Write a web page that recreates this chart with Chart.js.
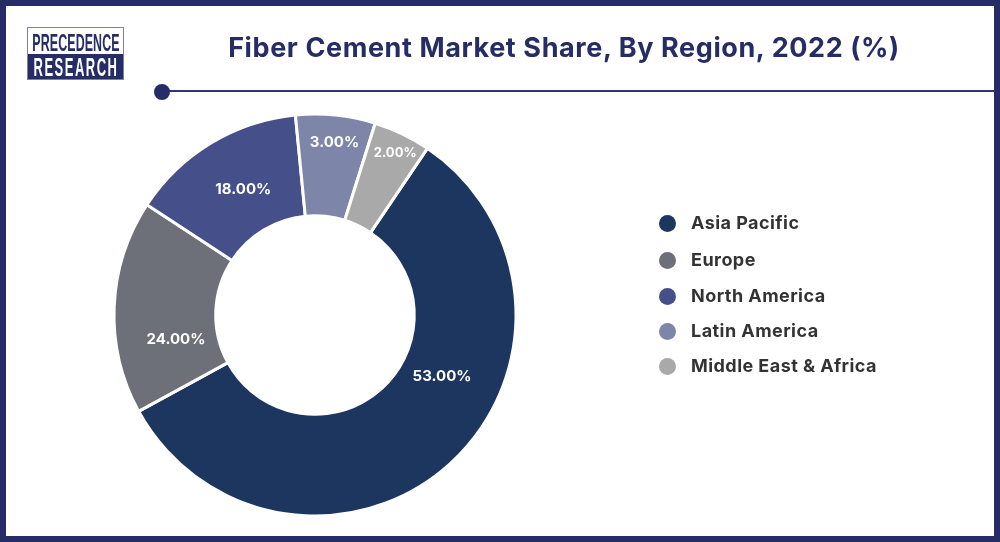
<!DOCTYPE html>
<html>
<head>
<meta charset="utf-8">
<script src="https://cdn.jsdelivr.net/npm/chart.js@4"></script>
<style>
  html, body { margin: 0; padding: 0; background: #fff; }
  body { width: 1000px; height: 542px; overflow: hidden; position: relative; font-family: Inter, sans-serif; }
  #frame { position: absolute; inset: 0; border: 6px solid #252c66; box-sizing: border-box; pointer-events: none; }
  #chart { position: absolute; left: 0; top: 0; }
  #title { position: absolute; left: 164px; width: 800px; top: 30px; text-align: center; font-size: 27px; line-height: 36px; font-weight: 700; color: #252c66; letter-spacing: 0.6px; white-space: nowrap; }
  #rule { position: absolute; left: 161px; right: 5px; top: 90px; height: 2px; background: #2f3672; }
  #dot { position: absolute; left: 154px; top: 84px; width: 16px; height: 16px; border-radius: 50%; background: #252c66; }
  #logo { position: absolute; left: 27px; top: 27px; width: 97px; height: 53px; box-sizing: border-box; border: 1px solid #7d80a0; font-family: "Liberation Sans", sans-serif; font-weight: 700; overflow: hidden; }
  #logo .band { position: absolute; left: 0; right: 0; }
  #logo .band span { position: absolute; left: 50%; white-space: nowrap; }
  #logo .top { top: 0; height: 26px; }
  #logo .top span { top: 2px; font-size: 23px; line-height: 26px; letter-spacing: 0.2px; color: #252c66; transform: translateX(-50%) scaleX(0.54); }
  #logo .bottom { top: 26px; height: 26px; background: #252c66; }
  #logo .bottom span { top: 0; font-size: 26px; line-height: 26px; letter-spacing: 3px; color: #fff; transform: translateX(-50%) scaleX(0.5); }
  .legend-row { position: absolute; left: 659px; height: 20px; white-space: nowrap; }
  .legend-row i { position: absolute; left: 0; top: 1.5px; width: 17px; height: 17px; border-radius: 50%; }
  .legend-row span { position: absolute; left: 32px; top: 0; font-size: 18px; line-height: 20px; font-weight: 700; color: #333; letter-spacing: 0.45px; }
</style>
</head>
<body>
<canvas id="chart" width="1000" height="542"></canvas>
<div id="frame"></div>
<div id="logo"><div class="band top"><span>PRECEDENCE</span></div><div class="band bottom"><span>RESEARCH</span></div></div>
<div id="title"></div>
<div id="rule"></div>
<div id="dot"></div>
<div id="legend"></div>
<script>
const chartTitle = "Fiber Cement Market Share, By Region, 2022 (%)";
const regions = ["Asia Pacific", "Europe", "North America", "Latin America", "Middle East & Africa"];
// slice sizes as drawn in the picture, the printed labels do not add up to them
const sliceSizes = [57.6, 17.2, 14.2, 6.4, 4.6];
const sliceLabels = ["53.00%", "24.00%", "18.00%", "3.00%", "2.00%"];
const sliceColors = ["#1d3660", "#6d7078", "#45508a", "#7d86a8", "#a9a9a9"];
const legendTops = [213, 250, 286, 321, 356];
const labelNudges = [[26, -50], [11, 31], [6, 3], [4, -23], [15, -27]];
const labelFonts = [15, 15, 15, 15, 13];

document.getElementById("title").textContent = chartTitle;

const legend = document.getElementById("legend");
regions.forEach((name, i) => {
  const row = document.createElement("div");
  row.className = "legend-row";
  row.style.top = legendTops[i] + "px";
  const mark = document.createElement("i");
  mark.style.background = sliceColors[i];
  const text = document.createElement("span");
  text.textContent = name;
  row.append(mark, text);
  legend.appendChild(row);
});

const sliceLabelPlugin = {
  id: "sliceLabels",
  afterDatasetsDraw(chart) {
    const ctx = chart.ctx;
    chart.getDatasetMeta(0).data.forEach((arc, i) => {
      const p = arc.getCenterPoint();
      ctx.save();
      ctx.fillStyle = "#fff";
      ctx.font = `700 ${labelFonts[i]}px Inter, sans-serif`;
      ctx.textAlign = "center";
      ctx.textBaseline = "middle";
      ctx.fillText(sliceLabels[i], p.x + labelNudges[i][0], p.y + labelNudges[i][1]);
      ctx.restore();
    });
  }
};

new Chart(document.getElementById("chart").getContext("2d"), {
  type: "doughnut",
  data: {
    labels: regions,
    datasets: [{
      data: sliceSizes,
      backgroundColor: sliceColors,
      borderColor: "#fff",
      borderWidth: 3,
      borderAlign: "center"
    }]
  },
  options: {
    responsive: false,
    animation: false,
    rotation: 34,
    radius: 201,
    cutout: 100.5,
    layout: { padding: { left: 110, right: 480, top: 110, bottom: 22 } },
    plugins: { legend: { display: false }, tooltip: { enabled: false } }
  },
  plugins: [sliceLabelPlugin]
});
</script>
</body>
</html>
